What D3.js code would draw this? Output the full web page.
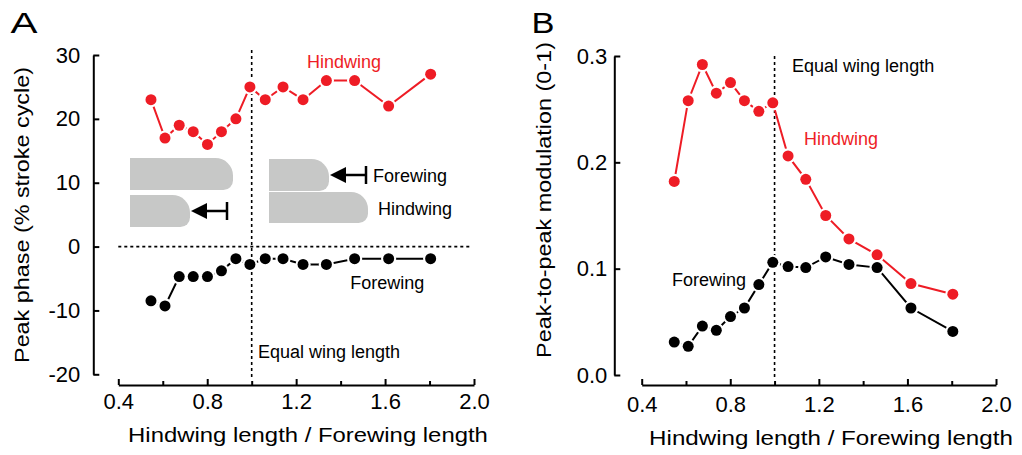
<!DOCTYPE html>
<html>
<head>
<meta charset="utf-8">
<script src="https://cdn.jsdelivr.net/npm/d3@7"></script>
<style>
  body { margin: 0; background: #fff; }
  svg { display: block; font-family: "Liberation Sans", Arial, sans-serif; }
</style>
</head>
<body>
<svg id="fig" width="1022" height="455"></svg>
<script>
// wing length ratio (hindwing / forewing), shared by both panels
var ratio = [0.547, 0.61, 0.674, 0.737, 0.801, 0.864, 0.929, 0.992, 1.061, 1.141, 1.231, 1.336, 1.463, 1.616, 1.805];

// panel A: peak phase (% stroke cycle)
var phaseHind = [23, 17, 19, 18, 16, 18, 20, 25, 23, 25, 23, 26, 26, 22, 27];
var phaseFore = [-8.5, -9.3, -4.7, -4.7, -4.7, -3.8, -1.9, -2.8, -1.9, -1.9, -2.8, -2.8, -1.9, -1.9, -1.9];

// panel B: peak-to-peak modulation (0-1)
var modHind = [0.182, 0.258, 0.292, 0.265, 0.275, 0.258, 0.248, 0.256, 0.206, 0.184, 0.150, 0.128, 0.113, 0.086, 0.076];
var modFore = [0.031, 0.027, 0.046, 0.042, 0.055, 0.063, 0.085, 0.106, 0.102, 0.101, 0.111, 0.104, 0.101, 0.063, 0.041];

var xTicks = [0.4, 0.8, 1.2, 1.6, 2.0];
var xMinor = [0.6, 1.0, 1.4, 1.8];
var yTicksA = [-20, -10, 0, 10, 20, 30];
var yTicksB = [0, 0.1, 0.2, 0.3];

var red = "#ee1c25";
var tickFont = 22;
var svg = d3.select("#fig");

var xA = d3.scaleLinear().domain([0.4, 2.0]).range([118.3, 474]);
var yA = d3.scaleLinear().domain([-20, 30]).range([374.3, 55]);
var xB = d3.scaleLinear().domain([0.4, 2.0]).range([641.7, 996]);
var yB = d3.scaleLinear().domain([0, 0.3]).range([375, 56]);

function styleAxis(g) {
  g.attr("font-family", null).attr("font-size", null);
  g.selectAll("path, line").attr("stroke", "#000").attr("stroke-width", 2);
  g.selectAll("text").attr("font-size", tickFont).attr("fill", "#000");
}

function drawAxes(x, y, yAxisX, yTicks, yFmt, xPad, yPad) {
  var xAxis = svg.append("g").attr("transform", "translate(0,385)")
    .call(d3.axisBottom(x).tickValues(xTicks).tickFormat(d3.format(".1f"))
      .tickSizeInner(-6).tickSizeOuter(0).tickPadding(xPad));
  styleAxis(xAxis);
  var xm = svg.append("g").attr("transform", "translate(0,385)")
    .call(d3.axisBottom(x).tickValues(xMinor).tickFormat("").tickSizeInner(-4).tickSizeOuter(0));
  styleAxis(xm);
  xm.select(".domain").remove();

  var yAxis = svg.append("g").attr("transform", "translate(" + yAxisX + ",0)")
    .call(d3.axisLeft(y).tickValues(yTicks).tickFormat(yFmt)
      .tickSizeInner(-6).tickSizeOuter(0).tickPadding(yPad));
  styleAxis(yAxis);
}

function series(x, y, xs, ys, color) {
  var pts = xs.map(function(d, i) { return [x(d), y(ys[i])]; });
  var g = svg.append("g");
  g.append("path")
    .attr("d", d3.line()(pts))
    .attr("fill", "none")
    .attr("stroke", color)
    .attr("stroke-width", 2);
  g.selectAll("circle.halo").data(pts).enter().append("circle")
    .attr("class", "halo")
    .attr("cx", function(d) { return d[0]; })
    .attr("cy", function(d) { return d[1]; })
    .attr("r", 7.6)
    .attr("fill", "#fff");
  g.selectAll("circle.dot").data(pts).enter().append("circle")
    .attr("class", "dot")
    .attr("cx", function(d) { return d[0]; })
    .attr("cy", function(d) { return d[1]; })
    .attr("r", 5.5)
    .attr("fill", color);
}

function label(x, y, txt, color, size) {
  return svg.append("text")
    .attr("x", x).attr("y", y)
    .attr("font-size", size)
    .attr("fill", color)
    .text(txt);
}

// text stretched along its reading direction to a given length
// (the source figure's font runs wider than Arial)
function stretched(x, y, txt, size, len, angle) {
  var t = svg.append("text")
    .attr("font-size", size)
    .attr("text-anchor", "middle")
    .text(txt);
  var s = len / t.node().getComputedTextLength();
  t.attr("transform", "translate(" + x + "," + y + ") rotate(" + (angle || 0) + ") scale(" + s + ",1)");
  return t;
}

function dotted(x1, y1, x2, y2) {
  svg.append("line")
    .attr("x1", x1).attr("y1", y1).attr("x2", x2).attr("y2", y2)
    .attr("stroke", "#000")
    .attr("stroke-width", 1.6)
    .attr("stroke-dasharray", "3,3");
}

// wing silhouette: flat base on the left, rounded tip on the right
function wing(x0, y0, len, h) {
  var r1 = h * 0.55, r2 = h * 0.3, x1 = x0 + len, y1 = y0 + h;
  var d = "M" + x0 + "," + y0 + "H" + (x1 - r1) +
    "A" + r1 + "," + r1 + " 0 0 1 " + x1 + "," + (y0 + r1) +
    "V" + (y1 - r2) +
    "A" + r2 + "," + r2 + " 0 0 1 " + (x1 - r2) + "," + y1 +
    "H" + x0 + "Z";
  svg.append("path").attr("d", d).attr("fill", "#c7c8c7");
}

function arrow(tip, yc, end) {
  svg.append("line")
    .attr("x1", tip + 10).attr("y1", yc).attr("x2", end).attr("y2", yc)
    .attr("stroke", "#000").attr("stroke-width", 2.5);
  svg.append("line")
    .attr("x1", end).attr("y1", yc - 9).attr("x2", end).attr("y2", yc + 9)
    .attr("stroke", "#000").attr("stroke-width", 2.5);
  svg.append("path")
    .attr("d", "M" + tip + "," + yc + "L" + (tip + 16) + "," + (yc - 8) + "L" + (tip + 16) + "," + (yc + 8) + "Z")
    .attr("fill", "#000");
}

// ---------- panel A ----------
drawAxes(xA, yA, 93.3, yTicksA, function(d) { return String(d); }, 8, 13);
dotted(xA(1.0), 50, xA(1.0), 377);
dotted(xA(0.4), yA(0), 470, yA(0));

wing(130, 158, 103, 32);
wing(130, 195, 60, 32);
arrow(191, 211, 227);
wing(269, 159, 60, 32);
wing(269, 192, 99, 31);
arrow(330, 175, 366);
label(373, 182, "Forewing", "#000", 18);
label(378, 215, "Hindwing", "#000", 18);

series(xA, yA, ratio, phaseHind, red);
series(xA, yA, ratio, phaseFore, "#000");

label(xA(1.249), yA(27.97), "Hindwing", red, 18);
label(xA(1.443), yA(-6.6), "Forewing", "#000", 18);
label(xA(1.028), yA(-17.4), "Equal wing length", "#000", 18);

stretched(24, 33, "A", 29, 27);
stretched(29, 215, "Peak phase (% stroke cycle)", 21, 296, -90);
stretched(308, 442, "Hindwing length / Forewing length", 20.5, 360);

// ---------- panel B ----------
drawAxes(xB, yB, 614.3, yTicksB, d3.format(".1f"), 11, 7);
dotted(xB(1.0), 56, xB(1.0), 378);

series(xB, yB, ratio, modHind, red);
series(xB, yB, ratio, modFore, "#000");

label(xB(1.079), yB(0.285), "Equal wing length", "#000", 18);
label(xB(1.133), yB(0.2163), "Hindwing", red, 18);
label(xB(0.537), yB(0.0837), "Forewing", "#000", 18);

stretched(543, 33, "B", 29, 23);
stretched(551, 200, "Peak-to-peak modulation (0-1)", 21, 316, -90);
stretched(831, 445, "Hindwing length / Forewing length", 20.5, 364);
</script>
</body>
</html>
